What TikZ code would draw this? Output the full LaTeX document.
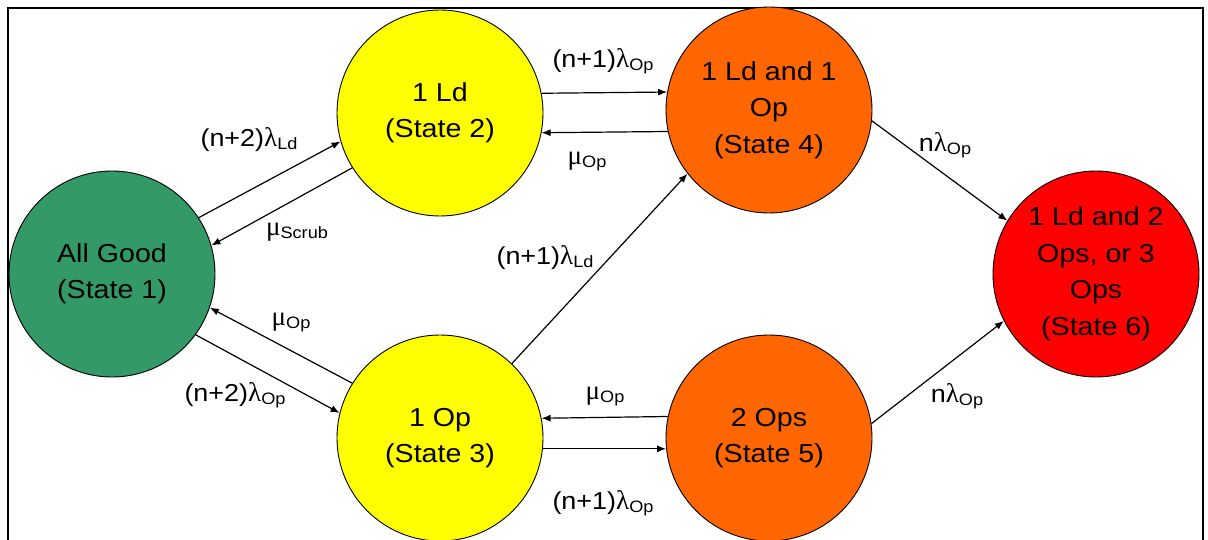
\documentclass[tikz,border=0pt]{standalone}
\usepackage{fontspec}
\setmainfont{Liberation Sans}[FakeStretch=1.1]
\newfontfamily\gk{Liberation Serif}
\usetikzlibrary{arrows.meta}
\definecolor{sgreen}{HTML}{339966}
\definecolor{syellow}{HTML}{FFFF00}
\definecolor{sorange}{HTML}{FF6600}
\definecolor{sred}{HTML}{FF0000}
\newcommand{\rt}[3]{#1{\gk\fontsize{27}{30}\selectfont #2}\raisebox{-3pt}{\fontsize{16.5}{18}\selectfont #3}}
\tikzset{
  state/.style={circle, draw=black, line width=0.9pt, minimum size=206pt, inner sep=0pt,
    align=center, font=\fontsize{26}{36.5}\selectfont},
  lbl/.style={inner sep=0pt, font=\fontsize{24.5}{28}\selectfont},
  arr/.style={line width=1.2pt, -{Latex[length=9pt,width=7pt]}},
}
\begin{document}
\begin{tikzpicture}[x=1pt,y=-1pt]
\useasboundingbox (0,0) rectangle (1208,540);
\fill[white] (0,0) rectangle (1208,540);
\draw[line width=2pt] (8,540) -- (8,8) -- (1203,8) -- (1203,540);

\node[state, fill=sgreen]  (S1) at (112,274) {All Good\\(State 1)};
\node[state, fill=syellow] (S2) at (440,113) {1 Ld\\(State 2)};
\node[state, fill=syellow] (S3) at (440,438) {1 Op\\(State 3)};
\node[state, fill=sorange] (S4) at (769,110) {1 Ld and 1\\Op\\(State 4)};
\node[state, fill=sorange] (S5) at (769,438) {2 Ops\\(State 5)};
\node[state, fill=sred]    (S6) at (1096,274) {1 Ld and 2\\Ops, or 3\\Ops\\(State 6)};

\draw[arr] (S1.33.5) -- (S2.196);
\draw[arr] (S2.212) -- (S1.16.3);
\draw[arr] (S3.148.6) -- (S1.-19);
\draw[arr] (S1.-36.8) -- (S3.166);
\draw[arr] (S2.11.2) -- (S4.170.5);
\draw[arr] (S4.192.9) -- (S2.-11.2);
\draw[arr] (S5.168.2) -- (S3.11.8);
\draw[arr] (S3.-6.7) -- (S5.186.7);
\draw[arr] (S3.46.2) -- (S4.218.5);
\draw[arr] (S4.-6.7) -- (S6.149.4);
\draw[arr] (S5.8.9) -- (S6.207);

\node[lbl] (L1) at (249,140) {\rt{(n+2)}{λ}{Ld}};
\node[lbl] (L2) at (297,232) {\rt{}{μ}{Scrub}};
\node[lbl] (L3) at (291,323) {\rt{}{μ}{Op}};
\node[lbl] (L4) at (235,395) {\rt{(n+2)}{λ}{Op}};
\node[lbl] (L5) at (603,61)  {\rt{(n+1)}{λ}{Op}};
\node[lbl] (L6) at (587,162) {\rt{}{μ}{Op}};
\node[lbl] (L7) at (545,258) {\rt{(n+1)}{λ}{Ld}};
\node[lbl] (L8) at (605,397) {\rt{}{μ}{Op}};
\node[lbl] (L9) at (603,503) {\rt{(n+1)}{λ}{Op}};
\node[lbl] (L10) at (945,145) {\rt{n}{λ}{Op}};
\node[lbl] (L11) at (957,396) {\rt{n}{λ}{Op}};
\end{tikzpicture}
\end{document}
